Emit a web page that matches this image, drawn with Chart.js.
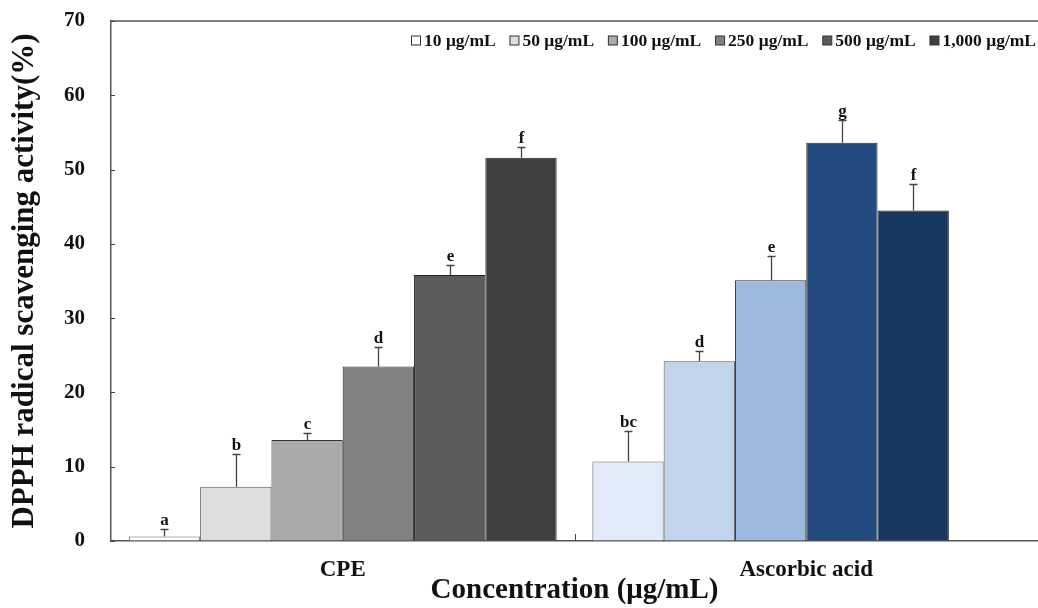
<!DOCTYPE html>
<html>
<head>
<meta charset="utf-8">
<script src="https://cdn.jsdelivr.net/npm/chart.js@4"></script>
<style>
html,body{margin:0;padding:0;background:#fff;}
#wrap{width:1038px;height:608px;}
</style>
</head>
<body>
<div id="wrap"><canvas id="c" width="1038" height="608"></canvas></div>
<script>
const categories = ["CPE", "Ascorbic acid"];
const seriesNames = ["10 μg/mL", "50 μg/mL", "100 μg/mL", "250 μg/mL", "500 μg/mL", "1,000 μg/mL"];
// values per concentration: [CPE, Ascorbic acid]
const v10   = [0.6, 10.7];
const v50   = [7.3, 24.2];
const v100  = [13.6, 35.1];
const v250  = [23.5, 53.6];
const v500  = [35.8, 44.5];
const v1000 = [51.6, null];
const e10   = [1.0, 4.1];
const e50   = [4.4, 1.4];
const e100  = [1.0, 3.2];
const e250  = [2.6, 3.1];
const e500  = [1.3, 3.6];
const e1000 = [1.5, null];
const l10   = ["a", "bc"];
const l50   = ["b", "d"];
const l100  = ["c", "e"];
const l250  = ["d", "g"];
const l500  = ["e", "f"];
const l1000 = ["f", ""];
const yTicks = [0, 10, 20, 30, 40, 50, 60, 70];

const values = [v10, v50, v100, v250, v500, v1000];
const errors = [e10, e50, e100, e250, e500, e1000];
const letters = [l10, l50, l100, l250, l500, l1000];
const cpeColors = ["#ffffff", "#dedede", "#aaaaaa", "#818181", "#5b5b5b", "#404040"];
const aaColors  = ["#e1eaf8", "#c1d4ec", "#9cb9df", "#224a7e", "#17375f", "#17375f"];
const borderColors = ["#666666", "#555555", "#333333", "#333333", "#222222", "#222222"];
const FONT = "'Liberation Serif', 'Times New Roman', serif";

const datasets = seriesNames.map((n, i) => ({
  label: n,
  data: values[i],
  backgroundColor: [cpeColors[i], aaColors[i]],
  borderColor: borderColors[i],
  borderWidth: 1,
  borderSkipped: 'bottom',
  errs: errors[i],
  letters: letters[i]
}));

const decor = {
  id: 'decor',
  afterDatasetsDraw(chart) {
    const ctx = chart.ctx;
    const ys = chart.scales.y, xs = chart.scales.x;
    const ca = chart.chartArea;
    ctx.save();
    // error bars and letters
    chart.data.datasets.forEach((ds, di) => {
      const meta = chart.getDatasetMeta(di);
      ds.data.forEach((v, i) => {
        if (v === null || v === undefined) return;
        const el = meta.data[i];
        const x = Math.round(el.x) + 0.5;
        const yTop = ys.getPixelForValue(v);
        const yCap = Math.round(ys.getPixelForValue(v + ds.errs[i])) + 0.5;
        ctx.strokeStyle = '#444';
        ctx.lineWidth = 1.3;
        ctx.beginPath();
        ctx.moveTo(x, yTop);
        ctx.lineTo(x, yCap);
        ctx.moveTo(x - 4, yCap);
        ctx.lineTo(x + 4, yCap);
        ctx.stroke();
        ctx.fillStyle = '#111';
        ctx.font = "bold 17px " + FONT;
        ctx.textAlign = 'center';
        ctx.textBaseline = 'alphabetic';
        ctx.fillText(ds.letters[i], x, yCap - 5);
      });
    });
    // top frame line
    ctx.strokeStyle = '#555';
    ctx.lineWidth = 1.5;
    ctx.beginPath();
    ctx.moveTo(ca.left, ca.top);
    ctx.lineTo(ca.right, ca.top);
    ctx.stroke();
    // inward y ticks
    ctx.lineWidth = 1;
    ctx.strokeStyle = '#444';
    yTicks.forEach(t => {
      const y = Math.round(ys.getPixelForValue(t)) + 0.5;
      ctx.beginPath();
      ctx.moveTo(ca.left, y);
      ctx.lineTo(ca.left + 4, y);
      ctx.stroke();
    });
    // category boundary tick
    const bx = Math.round((xs.getPixelForValue(0) + xs.getPixelForValue(1)) / 2) + 0.5;
    ctx.beginPath();
    ctx.moveTo(bx, ca.bottom);
    ctx.lineTo(bx, ca.bottom - 7);
    ctx.stroke();

    // legend (single row, right aligned at top of plot)
    ctx.font = "bold 17.5px " + FONT;
    ctx.textBaseline = 'middle';
    ctx.textAlign = 'left';
    const box = 9, gapBox = 4;
    const widths = seriesNames.map(s => box + gapBox + ctx.measureText(s).width);
    const startX = 411, endX = 1036;
    const total = widths.reduce((a, b) => a + b, 0);
    const gap = (endX - startX - total) / (seriesNames.length - 1);
    let lx = startX;
    const ly = 40;
    seriesNames.forEach((s, i) => {
      ctx.fillStyle = cpeColors[i];
      ctx.fillRect(lx + 0.5, ly - box / 2 + 0.5, box, box);
      ctx.strokeStyle = '#333';
      ctx.lineWidth = 1;
      ctx.strokeRect(lx + 0.5, ly - box / 2 + 0.5, box, box);
      ctx.fillStyle = '#111';
      ctx.fillText(s, lx + box + gapBox, ly + 1);
      lx += widths[i] + gap;
    });
    ctx.restore();
  }
};

new Chart(document.getElementById('c'), {
  type: 'bar',
  data: { labels: categories, datasets: datasets },
  options: {
    responsive: false,
    animation: false,
    devicePixelRatio: 1,
    layout: { padding: { top: 21, right: 0, left: 0, bottom: 0 } },
    datasets: { bar: { categoryPercentage: 0.923, barPercentage: 1.0 } },
    plugins: {
      tooltip: { enabled: false },
      legend: { display: false }
    },
    scales: {
      x: {
        grid: { display: true, drawOnChartArea: false, drawTicks: false },
        border: { color: '#555', width: 1.5 },
        ticks: { color: '#111', padding: 15, font: { family: FONT, size: 23, weight: 'bold' } },
        title: {
          display: true,
          text: 'Concentration (μg/mL)',
          color: '#111',
          font: { family: FONT, size: 29, weight: 'bold' },
          padding: { top: 0, bottom: 0 }
        },
        afterFit(s) { s.height = 67; s.paddingLeft = 0; s.paddingRight = 0; }
      },
      y: {
        min: 0, max: 70,
        afterBuildTicks(s) { s.ticks = yTicks.map(v => ({ value: v })); },
        grid: { display: true, drawOnChartArea: false, drawTicks: false },
        border: { color: '#555', width: 1.5 },
        ticks: { color: '#111', padding: 26, font: { family: FONT, size: 21, weight: 'bold' } },
        title: {
          display: true,
          text: 'DPPH radical scavenging activity(%)',
          color: '#111',
          font: { family: FONT, size: 31, weight: 'bold' },
          padding: { top: 6, bottom: 0 }
        },
        afterFit(s) { s.width = 111; s.paddingTop = 0; s.paddingBottom = 0; }
      }
    }
  },
  plugins: [decor]
});
</script>
</body>
</html>
